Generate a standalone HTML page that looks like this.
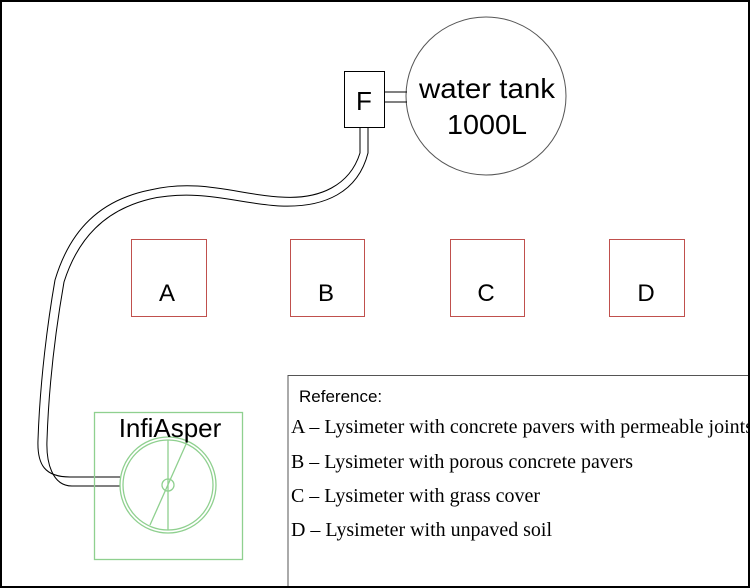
<!DOCTYPE html>
<html><head><style>html,body{margin:0;padding:0;background:#fff}svg{display:block}</style></head>
<body>
<svg width="750" height="588" viewBox="0 0 750 588" xmlns="http://www.w3.org/2000/svg">
<rect x="0" y="0" width="750" height="588" fill="#fff"/>
<rect x="1" y="1" width="748" height="586" fill="none" stroke="#000" stroke-width="2"/>
<ellipse cx="486" cy="96" rx="80" ry="79" fill="none" stroke="#555" stroke-width="1"/>
<text x="487" y="98" font-family="Liberation Sans, sans-serif" font-size="28" text-anchor="middle" textLength="136" lengthAdjust="spacingAndGlyphs">water tank</text>
<text x="487" y="134" font-family="Liberation Sans, sans-serif" font-size="28" text-anchor="middle" textLength="80" lengthAdjust="spacingAndGlyphs">1000L</text>
<line x1="384" y1="92" x2="407" y2="92" stroke="#000"/>
<line x1="384" y1="102" x2="407" y2="102" stroke="#000"/>
<rect x="344.5" y="71.5" width="40" height="56" fill="#fff" stroke="#000"/>
<text x="364" y="110" font-family="Liberation Sans, sans-serif" font-size="26" text-anchor="middle">F</text>
<g fill="none" stroke="#000" stroke-width="1">
<path d="M360 127 V153 C350 185 320 200 280 197 C240 195 200 178 150 190 C100 200 70 230 55 280 C48 320 40 380 38 440 C37 465 45 477 70 477 H120"/>
<path d="M368 127 V153 C358 192 325 208 280 206 C240 204 200 188 150 199 C105 210 78 238 64 282 C57 322 49 380 47 440 C46 462 52 486 72 486 H120"/>
</g>
<g fill="none" stroke="#c0504d" stroke-width="1">
<rect x="131.5" y="239.5" width="75" height="77"/>
<rect x="290.5" y="239.5" width="74" height="77"/>
<rect x="450.5" y="239.5" width="74" height="77"/>
<rect x="609.5" y="239.5" width="75" height="77"/>
</g>
<g font-family="Liberation Sans, sans-serif" font-size="24" text-anchor="middle">
<text x="167" y="301">A</text>
<text x="326" y="301">B</text>
<text x="486" y="301">C</text>
<text x="646" y="301">D</text>
</g>
<g fill="none" stroke="#8fd08f" stroke-width="1.3">
<rect x="94.5" y="412.5" width="148" height="147"/>
<circle cx="168" cy="485" r="48"/>
<circle cx="168" cy="485" r="45"/>
<circle cx="168" cy="485" r="6"/>
<line x1="168" y1="440" x2="168" y2="530"/>
<line x1="187" y1="442" x2="150" y2="525"/>
</g>
<text x="170" y="437" font-family="Liberation Sans, sans-serif" font-size="26" text-anchor="middle">InfiAsper</text>
<rect x="288" y="375.5" width="470" height="220" fill="#fff" stroke="#555" stroke-width="1"/>
<text x="299" y="402" font-family="Liberation Sans, sans-serif" font-size="17">Reference:</text>
<g font-family="Liberation Serif, serif" font-size="20">
<text x="291" y="433" textLength="462" lengthAdjust="spacingAndGlyphs">A – Lysimeter with concrete pavers with permeable joints</text>
<text x="291" y="468" textLength="342" lengthAdjust="spacingAndGlyphs">B – Lysimeter with porous concrete pavers</text>
<text x="291" y="502" textLength="249" lengthAdjust="spacingAndGlyphs">C – Lysimeter with grass cover</text>
<text x="291" y="536" textLength="261" lengthAdjust="spacingAndGlyphs">D – Lysimeter with unpaved soil</text>
</g>
<line x1="749" y1="0" x2="749" y2="588" stroke="#000" stroke-width="2"/>
<line x1="0" y1="587" x2="750" y2="587" stroke="#000" stroke-width="2"/>
</svg>
</body></html>
